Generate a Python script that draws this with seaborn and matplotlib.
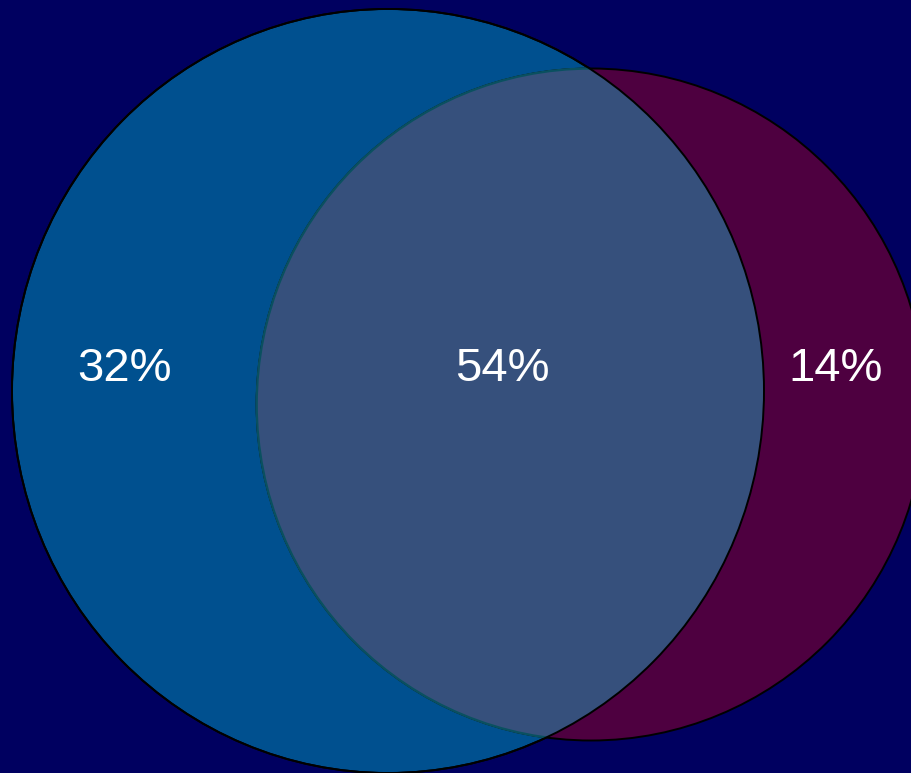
import matplotlib
matplotlib.use("Agg")
import matplotlib.pyplot as plt
import seaborn as sns
from matplotlib.patches import Ellipse
import numpy as np

# data
region_labels = ["32%", "54%", "14%"]
left_only = 32
both = 54
right_only = 14

sns.set_theme(style="white")
plt.rcParams['font.family'] = ['Liberation Sans', 'DejaVu Sans']

W, H = 912, 773
fig = plt.figure(figsize=(W / 100, H / 100), dpi=100)
bg = "#000060"
fig.patch.set_facecolor(bg)
ax = fig.add_axes([0, 0, 1, 1])
ax.set_facecolor(bg)
ax.set_xlim(0, W)
ax.set_ylim(H, 0)
ax.axis("off")

# area-proportional radii
left_area = left_only + both
right_area = right_only + both
r_left = 376
r_right = r_left * np.sqrt(right_area / left_area)
stretch_left = 1.016

cl = (388, 391)
cr = (591, 404.5)

c_left_col = "#00508f"
c_right_col = "#4e0040"
c_both_col = "#36507c"

left = Ellipse(cl, 2 * r_left, 2 * r_left * stretch_left, facecolor=c_left_col,
               edgecolor="black", lw=1.4, zorder=1)
ax.add_patch(left)
right = Ellipse(cr, 2 * r_right, 2 * 336, facecolor=c_right_col,
                edgecolor="black", lw=1.4, zorder=2)
ax.add_patch(right)

clip_c = Ellipse(cl, 2 * r_left, 2 * r_left * stretch_left, transform=ax.transData,
                 facecolor="none", edgecolor="none")
ax.add_patch(clip_c)
inter = Ellipse(cr, 2 * r_right, 2 * 336, facecolor=c_both_col, edgecolor="#0a5060",
                lw=1.7, zorder=3)
ax.add_patch(inter)
inter.set_clip_path(clip_c)

left_edge = Ellipse(cl, 2 * r_left, 2 * r_left * stretch_left, facecolor="none",
                    edgecolor="black", lw=1.4, zorder=4)
ax.add_patch(left_edge)

label_pos = [(124, 369), (502, 369), (836, 369)]
for (x, y), t in zip(label_pos, region_labels):
    ax.text(x, y, t, color="white", fontsize=34, ha="center", va="center", zorder=5)

fig.savefig("out.png", dpi=100, facecolor=bg)
